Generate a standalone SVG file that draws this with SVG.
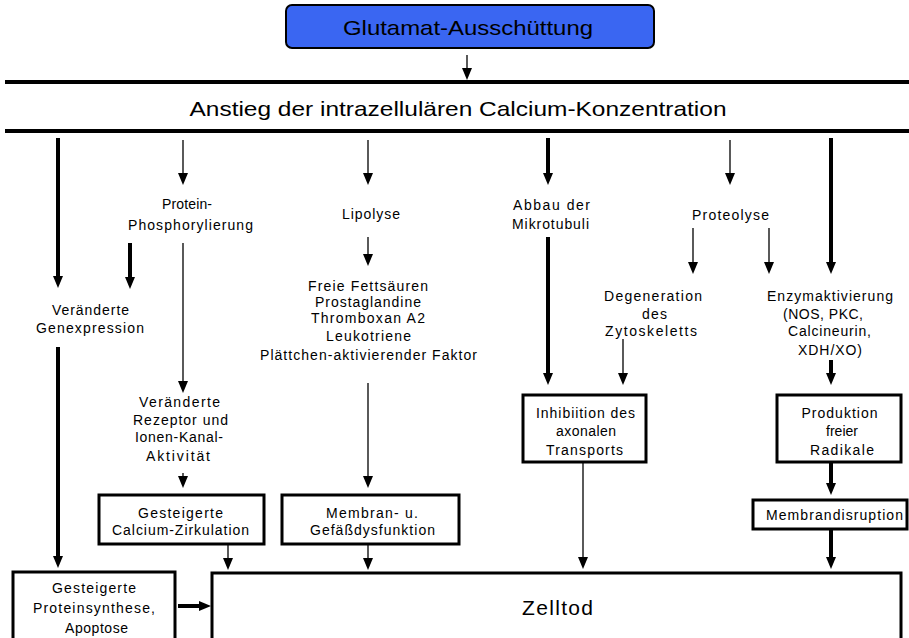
<svg xmlns="http://www.w3.org/2000/svg" width="909" height="638" viewBox="0 0 909 638">
<defs>
<marker id="ah" viewBox="0 0 12 10" refX="6" refY="5" markerWidth="12" markerHeight="10" markerUnits="userSpaceOnUse" orient="auto">
<path d="M0,0 L12,5 L0,10 Z" fill="#000"/>
</marker>
<style>
text{font-family:"Liberation Sans",Arial,sans-serif;fill:#000}
.s{font-size:14px;text-anchor:middle}
.b{font-size:21px;text-anchor:middle}
.box{fill:#fff;stroke:#000;stroke-width:3}
.thin{stroke:#000;stroke-width:1.3;fill:none}
.thick{stroke:#000;stroke-width:4;fill:none}
.bar{stroke:#000;stroke-width:4}
</style>
</defs>
<rect width="909" height="638" fill="#fff"/>

<g id="glutamat">
<rect x="286" y="5" width="368" height="43" rx="6" fill="#3a66f2" stroke="#000" stroke-width="2"/>
<text class="b" x="468" y="35" textLength="250" lengthAdjust="spacingAndGlyphs">Glutamat-Ausschüttung</text>
</g>

<g id="calcium">
<line class="bar" x1="5" y1="82" x2="909" y2="82"/>
<line class="bar" x1="5" y1="131" x2="909" y2="131"/>
<text class="b" x="458" y="116" textLength="537" lengthAdjust="spacingAndGlyphs">Anstieg der intrazellulären Calcium-Konzentration</text>
</g>

<g id="phosphorylierung">
<text class="s" x="187" y="209" textLength="50">Protein-</text>
<text class="s" x="190.5" y="230" textLength="125">Phosphorylierung</text>
</g>
<g id="lipolyse"><text class="s" x="371" y="219" textLength="58">Lipolyse</text></g>
<g id="genexpression">
<text class="s" x="90.5" y="315" textLength="77">Veränderte</text>
<text class="s" x="90" y="333" textLength="108">Genexpression</text>
</g>
<g id="fettsaeuren">
<text class="s" x="368" y="291" textLength="120">Freie Fettsäuren</text>
<text class="s" x="368" y="307" textLength="106">Prostaglandine</text>
<text class="s" x="368" y="323" textLength="114">Thromboxan A2</text>
<text class="s" x="368.5" y="341" textLength="85">Leukotriene</text>
<text class="s" x="368.5" y="360" textLength="217">Plättchen-aktivierender Faktor</text>
</g>
<g id="mikrotubuli">
<text class="s" x="551.5" y="210" textLength="77">Abbau der</text>
<text class="s" x="550.5" y="229" textLength="77">Mikrotubuli</text>
</g>
<g id="proteolyse"><text class="s" x="730.5" y="220" textLength="77">Proteolyse</text></g>
<g id="zytoskelett">
<text class="s" x="653" y="301" textLength="98">Degeneration</text>
<text class="s" x="654.5" y="319" textLength="25">des</text>
<text class="s" x="651" y="336" textLength="92">Zytoskeletts</text>
</g>
<g id="enzym">
<text class="s" x="830" y="301" textLength="126">Enzymaktivierung</text>
<text class="s" x="823" y="319" textLength="80">(NOS, PKC,</text>
<text class="s" x="829.5" y="336" textLength="83">Calcineurin,</text>
<text class="s" x="830" y="355" textLength="64">XDH/XO)</text>
</g>
<g id="rezeptor">
<text class="s" x="179.5" y="407" textLength="81">Veränderte</text>
<text class="s" x="180.5" y="425" textLength="95">Rezeptor und</text>
<text class="s" x="179" y="442" textLength="88">Ionen-Kanal-</text>
<text class="s" x="178" y="461" textLength="64">Aktivität</text>
</g>
<g id="zirkulation">
<rect class="box" x="99" y="495" width="165" height="49"/>
<text class="s" x="180.5" y="518" textLength="85">Gesteigerte</text>
<text class="s" x="180.5" y="535" textLength="137">Calcium-Zirkulation</text>
</g>
<g id="membran">
<rect class="box" x="282" y="495" width="177" height="49"/>
<text class="s" x="372" y="518" textLength="92">Membran- u.</text>
<text class="s" x="372.5" y="535" textLength="125">Gefäßdysfunktion</text>
</g>
<g id="inhibition">
<rect class="box" x="523" y="395" width="123" height="67"/>
<text class="s" x="585.5" y="418" textLength="99">Inhibiition des</text>
<text class="s" x="586" y="436" textLength="60">axonalen</text>
<text class="s" x="584.5" y="455" textLength="77">Transports</text>
</g>
<g id="radikale">
<rect class="box" x="777" y="395" width="124" height="67"/>
<text class="s" x="839.5" y="418" textLength="76">Produktion</text>
<text class="s" x="842" y="436" textLength="32">freier</text>
<text class="s" x="842" y="455" textLength="64">Radikale</text>
</g>
<g id="membrandisruption">
<rect class="box" x="753" y="500" width="154" height="29"/>
<text class="s" x="834.5" y="520" textLength="137">Membrandisruption</text>
</g>
<g id="proteinsynthese">
<rect class="box" x="13" y="572" width="162" height="80"/>
<text class="s" x="94" y="593" textLength="84">Gesteigerte</text>
<text class="s" x="94" y="613" textLength="122">Proteinsynthese,</text>
<text class="s" x="96.5" y="633" textLength="63">Apoptose</text>
</g>
<g id="zelltod">
<rect class="box" x="212" y="573" width="689" height="80"/>
<text x="522" y="615" font-size="21" textLength="71">Zelltod</text>
</g>

<g id="connectors">
<line class="thin" x1="467" y1="55" x2="467" y2="74" marker-end="url(#ah)" stroke-width="2"/>
<line class="thick" x1="58" y1="138" x2="58" y2="282" marker-end="url(#ah)"/>
<line class="thin" x1="183" y1="140" x2="183" y2="179" marker-end="url(#ah)"/>
<line class="thin" x1="368" y1="140" x2="368" y2="179" marker-end="url(#ah)"/>
<line class="thick" x1="548" y1="138" x2="548" y2="179" marker-end="url(#ah)" stroke-width="2.5"/>
<line class="thin" x1="730" y1="140" x2="730" y2="179" marker-end="url(#ah)"/>
<line class="thick" x1="831" y1="138" x2="831" y2="268" marker-end="url(#ah)"/>
<line class="thick" x1="130" y1="243" x2="130" y2="283" marker-end="url(#ah)"/>
<line class="thin" x1="183" y1="243" x2="183" y2="387" marker-end="url(#ah)"/>
<line class="thin" x1="368" y1="237" x2="368" y2="260" marker-end="url(#ah)"/>
<line class="thin" x1="368" y1="383" x2="368" y2="482" marker-end="url(#ah)"/>
<line class="thick" x1="548" y1="237" x2="548" y2="379" marker-end="url(#ah)" stroke-width="2.5"/>
<line class="thin" x1="693" y1="228" x2="693" y2="268" marker-end="url(#ah)"/>
<line class="thin" x1="769" y1="228" x2="769" y2="268" marker-end="url(#ah)"/>
<line class="thin" x1="623" y1="339" x2="623" y2="379" marker-end="url(#ah)"/>
<line class="thick" x1="831" y1="360" x2="831" y2="379" marker-end="url(#ah)"/>
<line class="thin" x1="183" y1="473" x2="183" y2="482" marker-end="url(#ah)" stroke-width="2"/>
<line class="thin" x1="228" y1="544" x2="228" y2="564" marker-end="url(#ah)" stroke-width="2"/>
<line class="thin" x1="368" y1="544" x2="368" y2="564" marker-end="url(#ah)" stroke-width="2"/>
<line class="thin" x1="583" y1="462" x2="583" y2="563" marker-end="url(#ah)"/>
<line class="thick" x1="831" y1="462" x2="831" y2="489" marker-end="url(#ah)"/>
<line class="thick" x1="831" y1="529" x2="831" y2="563" marker-end="url(#ah)"/>
<line class="thick" x1="58" y1="347" x2="58" y2="562" marker-end="url(#ah)"/>
<line class="thick" x1="178" y1="606" x2="205" y2="606" marker-end="url(#ah)"/>
</g>
</svg>
